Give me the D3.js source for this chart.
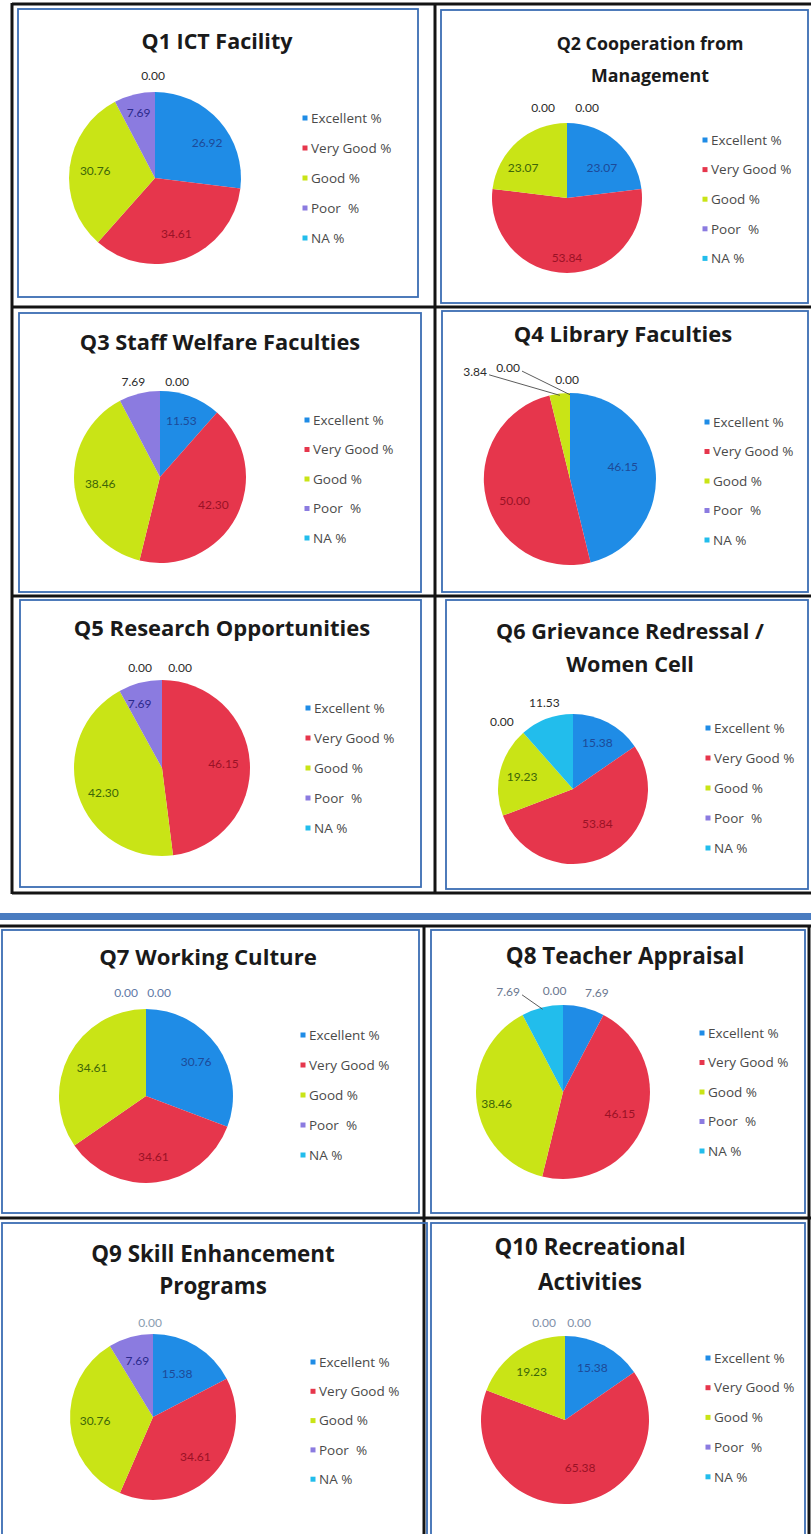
<!DOCTYPE html>
<html>
<head>
<meta charset="utf-8">
<script src="https://cdn.jsdelivr.net/npm/d3@7"></script>
<style>
  body { margin: 0; background: #ffffff; }
  svg { display: block; }
</style>
</head>
<body>
<svg id="sheet" width="811" height="1534"></svg>
<script>
// ---- Survey data (percent of respondents per rating) ----
const categories = ["Excellent %", "Very Good %", "Good %", "Poor  %", "NA %"];

const titles = [
  ["Q1 ICT Facility"],
  ["Q2 Cooperation from", "Management"],
  ["Q3 Staff Welfare Faculties"],
  ["Q4 Library Faculties"],
  ["Q5 Research Opportunities"],
  ["Q6 Grievance Redressal /", "Women Cell"],
  ["Q7 Working Culture"],
  ["Q8 Teacher Appraisal"],
  ["Q9 Skill Enhancement", "Programs"],
  ["Q10 Recreational", "Activities"]
];

const q1Values  = [26.92, 34.61, 30.76, 7.69, 0.00];
const q2Values  = [23.07, 53.84, 23.07, 0.00, 0.00];
const q3Values  = [11.53, 42.30, 38.46, 7.69, 0.00];
const q4Values  = [46.15, 50.00, 3.84, 0.00, 0.00];
const q5Values  = [0.00, 46.15, 42.30, 7.69, 0.00];
const q6Values  = [15.38, 53.84, 19.23, 0.00, 11.53];
const q7Values  = [30.76, 34.61, 34.61, 0.00, 0.00];
const q8Values  = [7.69, 46.15, 38.46, 0.00, 7.69];
const q9Values  = [15.38, 34.61, 30.76, 7.69, 0.00];
const q10Values = [15.38, 65.38, 19.23, 0.00, 0.00];

const questionValues = [q1Values, q2Values, q3Values, q4Values, q5Values,
                        q6Values, q7Values, q8Values, q9Values, q10Values];

// ---- Styling ----
const sliceColors = ["#1f8ce6", "#e6364c", "#c9e416", "#8b7be0", "#22bdec"];
const labelInk    = ["#1d4a98", "#9a1226", "#3d6608", "#2c2a8c", "#1d4a98"];
const LABEL_FONT = "Lato, 'Open Sans', 'DejaVu Sans', sans-serif";
const TEXT_FONT = "'Open Sans', Lato, 'DejaVu Sans', sans-serif";

// ---- Panel layout: pie centre/radius, title and legend placement, label tweaks ----
const panels = [
  { cx: 155, cy: 178, r: 86, tx: 217, ty: 49, fs: 21.5, lx: 305, ly: 118, lg: 30, oc: "#2b2b2b",
    out: { 4: [-2, -3] }, nudge: { 0: [7, 5], 3: [-2, -7] } },
  { cx: 567, cy: 198, r: 75, tx: 650, ty: 50, fs: 17.8, lh: 32, lx: 705, ly: 140, lg: 29.6, oc: "#2b2b2b",
    out: { 3: [-24, -4], 4: [20, -4] }, nudge: { 0: [0, 9], 1: [0, 7], 2: [-9, 9] } },
  { cx: 160, cy: 477, r: 86, tx: 220, ty: 350, fs: 21.8, lx: 307, ly: 420, lg: 29.5, oc: "#2b2b2b",
    out: { 3: [-3, 1], 4: [17, 4] }, nudge: {} },
  { cx: 570, cy: 479, r: 86, tx: 623, ty: 342, fs: 22, lx: 707, ly: 422, lg: 29.5, oc: "#2b2b2b",
    out: { 2: [-83, -9], 3: [-62, -12], 4: [-3, 0] }, leaders: [2, 3],
    nudge: { 0: [-7, -5], 1: [3, 7] } },
  { cx: 162, cy: 768, r: 88, tx: 222, ty: 636, fs: 22, lx: 308, ly: 708, lg: 30, oc: "#2b2b2b",
    out: { 0: [-22, 1], 4: [18, 1] }, nudge: { 2: [0, 6], 3: [-7, -5] } },
  { cx: 573, cy: 789, r: 75, tx: 630, ty: 639, fs: 21.6, lh: 33, lx: 708, ly: 728, lg: 30, oc: "#2b2b2b",
    out: { 3: [-14, -3], 4: [2, -6] }, nudge: { 1: [0, -12] } },
  { cx: 146, cy: 1096, r: 87, tx: 208, ty: 965, fs: 22.2, lx: 303, ly: 1035, lg: 30, oc: "#5f7aa6",
    out: { 3: [-20, -3], 4: [13, -3] }, nudge: {} },
  { cx: 563, cy: 1092, r: 87, tx: 625, ty: 964, fs: 22.5, lx: 702, ly: 1033, lg: 29.5, oc: "#6b7890",
    out: { 0: [10, -2], 3: [38, -13], 4: [-31, -3] }, leaders: [4],
    nudge: { 2: [-6, 4] } },
  { cx: 153, cy: 1417, r: 83, tx: 213, ty: 1262, fs: 22.4, lh: 32, lx: 313, ly: 1362, lg: 29.3, oc: "#8a9db0",
    out: { 4: [-3, 1] }, nudge: { 0: [-6, 6] } },
  { cx: 565, cy: 1420, r: 84, tx: 590, ty: 1255, fs: 22.4, lh: 35, lx: 708, ly: 1358, lg: 29.7, oc: "#7f90a8",
    out: { 3: [-21, -1], 4: [14, -1] }, nudge: { 1: [8, -11] } }
];

const svg = d3.select("#sheet");

// ---- Page frame: table rules and chart borders ----
const frame = svg.append("g").attr("class", "frame");
const blackRule = (x1, y1, x2, y2, w = 3) =>
  frame.append("line").attr("x1", x1).attr("y1", y1).attr("x2", x2).attr("y2", y2)
    .attr("stroke", "#141414").attr("stroke-width", w);
const blueRect = (x, y, w, h) =>
  frame.append("rect").attr("x", x).attr("y", y).attr("width", w).attr("height", h)
    .attr("fill", "none").attr("stroke", "#3b6db3").attr("stroke-width", 1.8);

// upper table
blackRule(12, 4, 811, 4);
blackRule(12, 307, 811, 307);
blackRule(12, 596, 811, 596);
blackRule(12, 893, 811, 893);
blackRule(12, 3, 12, 894);
blackRule(435, 3, 435, 894);
blueRect(18, 9, 400, 288);
blueRect(441, 10, 367, 293);
blueRect(19, 313, 402, 279);
blueRect(442, 311, 366, 281);
blueRect(20, 600, 401, 287);
blueRect(446, 600, 362, 289);

// separator bar between the two tables
frame.append("rect").attr("x", 0).attr("y", 913).attr("width", 811).attr("height", 7)
  .attr("fill", "#4a7cc0");

// lower table
blackRule(0, 926, 811, 926);
blackRule(0, 1218, 811, 1218);
blackRule(424, 925, 424, 1534);
blackRule(809, 925, 809, 1534);
blueRect(2, 930, 417, 283);
blueRect(431, 930, 374, 283);
blueRect(2, 1223, 425, 320);
blueRect(431, 1223, 374, 320);

// ---- Pies ----
const pie = d3.pie().sort(null).value(d => d).startAngle(0).endAngle(2 * Math.PI);
const fmt = d3.format(".2f");

panels.forEach((p, qi) => {
  const values = questionValues[qi];
  const arcs = pie(values);
  const g = svg.append("g").attr("class", "panel");

  // title
  const t = g.append("text")
    .attr("x", p.tx).attr("y", p.ty)
    .attr("text-anchor", "middle")
    .attr("font-family", TEXT_FONT).attr("font-weight", 700).attr("font-size", p.fs)
    .attr("fill", "#1a1a1a");
  titles[qi].forEach((line, li) => {
    t.append("tspan").attr("x", p.tx).attr("dy", li === 0 ? 0 : (p.lh || 32)).text(line);
  });

  // slices
  const arc = d3.arc().innerRadius(0).outerRadius(p.r);
  const pg = g.append("g").attr("transform", `translate(${p.cx},${p.cy})`);
  pg.selectAll("path")
    .data(arcs.filter(d => d.value > 0))
    .join("path")
    .attr("d", arc)
    .attr("fill", d => sliceColors[d.index]);

  // data labels
  const inner = d3.arc().innerRadius(p.r * 0.7).outerRadius(p.r * 0.7);
  const outer = d3.arc().innerRadius(p.r * 1.15).outerRadius(p.r * 1.15);
  const rim = d3.arc().innerRadius(p.r * 0.98).outerRadius(p.r * 0.98);

  arcs.forEach(d => {
    const isOut = p.out && p.out[d.index] !== undefined;
    const [bx, by] = isOut ? outer.centroid(d) : inner.centroid(d);
    const [nx, ny] = isOut ? p.out[d.index] : (p.nudge[d.index] || [0, 0]);
    const x = bx + nx, y = by + ny;

    if (isOut && p.leaders && p.leaders.includes(d.index)) {
      const [ex, ey] = rim.centroid(d);
      pg.append("line")
        .attr("x1", x + 14).attr("y1", y + 3)
        .attr("x2", ex).attr("y2", ey)
        .attr("stroke", "#4a4a4a").attr("stroke-width", 0.9);
    }

    pg.append("text")
      .attr("x", x).attr("y", y).attr("dy", "0.35em")
      .attr("text-anchor", "middle")
      .attr("font-family", LABEL_FONT).attr("font-size", 12)
      .attr("fill", isOut ? p.oc : labelInk[d.index])
      .text(fmt(d.data));
  });

  // legend
  const lg = g.append("g");
  categories.forEach((c, i) => {
    const y = p.ly + i * p.lg;
    lg.append("rect")
      .attr("x", p.lx - 2.5).attr("y", y - 2.5).attr("width", 5).attr("height", 5)
      .attr("fill", sliceColors[i]);
    lg.append("text")
      .attr("x", p.lx + 6).attr("y", y).attr("dy", "0.35em")
      .attr("font-family", TEXT_FONT).attr("font-size", 13.5)
      .attr("fill", "#4a4a4a")
      .attr("xml:space", "preserve")
      .style("white-space", "pre")
      .text(c);
  });
});
</script>
</body>
</html>
